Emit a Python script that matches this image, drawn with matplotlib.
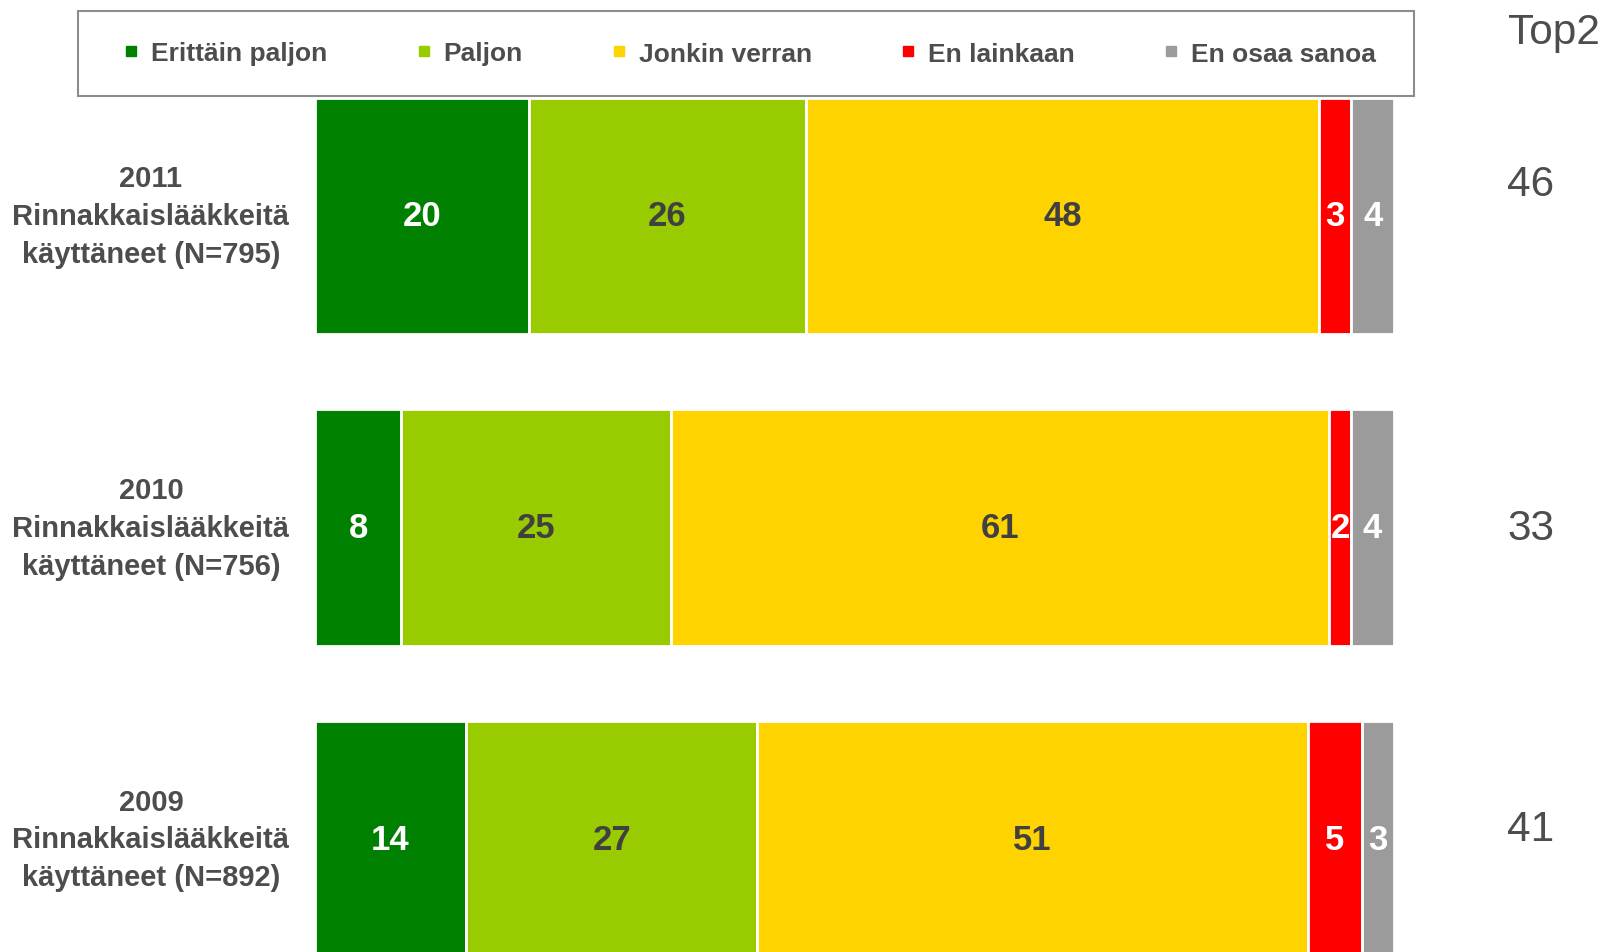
import matplotlib
matplotlib.use("Agg")
import matplotlib.pyplot as plt
import matplotlib.transforms as mtransforms
from matplotlib.lines import Line2D
from matplotlib.patches import Rectangle

plt.rcParams['font.family'] = ['Liberation Sans', 'DejaVu Sans']

# ---- data ----
row_labels = [
    "2011\nRinnakkaislääkkeitä\nkäyttäneet (N=795)",
    "2010\nRinnakkaislääkkeitä\nkäyttäneet (N=756)",
    "2009\nRinnakkaislääkkeitä\nkäyttäneet (N=892)",
]
series_names = ["Erittäin paljon", "Paljon", "Jonkin verran", "En lainkaan", "En osaa sanoa"]
erittain_paljon = [20, 8, 14]
paljon = [26, 25, 27]
jonkin_verran = [48, 61, 51]
en_lainkaan = [3, 2, 5]
en_osaa_sanoa = [4, 4, 3]
series_values = [erittain_paljon, paljon, jonkin_verran, en_lainkaan, en_osaa_sanoa]

# ---- styles ----
colors = ["#008000", "#99CC00", "#FFD300", "#FF0000", "#9B9B9B"]
text_colors = ["white", "#404040", "#404040", "white", "white"]
gray_text = "#4D4D4D"
top2_offsets_px = [-32, 0, -10]

W, H = 1604, 953
fig = plt.figure(figsize=(W / 100, H / 100), dpi=100)
ax = fig.add_axes([315 / W, 0, 1079 / W, 1])

n = len(row_labels)
ypos = list(range(n))
totals = [sum(s[i] for s in series_values) for i in range(n)]

for i in range(n):
    left = 0.0
    for k, vals in enumerate(series_values):
        w = vals[i] / totals[i] * 100
        ax.barh(ypos[i], w, left=left, height=0.76, color=colors[k],
                edgecolor="white", linewidth=2)
        ax.text(left + w / 2, ypos[i], str(vals[i]), ha="center", va="center",
                fontsize=25, fontweight="bold", color=text_colors[k])
        left += w

ax.set_xlim(0, 100)
ax.set_ylim(2.361, -0.696)
ax.axis("off")

# left category labels
trans = mtransforms.blended_transform_factory(ax.transAxes, ax.transData)
for i in range(n):
    ax.text(-0.152, ypos[i], row_labels[i], transform=trans, ha="center", va="center",
            fontsize=21, fontweight="bold", color=gray_text, linespacing=1.45)

# Top2 values
for i in range(n):
    top2 = erittain_paljon[i] + paljon[i]
    off = mtransforms.ScaledTranslation(0, -top2_offsets_px[i] / 100, fig.dpi_scale_trans)
    ax.text(1.127, ypos[i], str(top2), transform=trans + off, ha="center", va="center",
            fontsize=30.5, color=gray_text)

fig.text(1508 / W, 1 - 33 / H, "Top2", ha="left", va="center", fontsize=30.5, color=gray_text)

# legend box
box = Rectangle((78 / W, 1 - 97 / H), (1414 - 78) / W, (97 - 12) / H,
                transform=fig.transFigure, facecolor="white", edgecolor="#8C8C8C",
                linewidth=1.5, zorder=5)
fig.patches.append(box)

handles = [Line2D([0], [0], marker="s", linestyle="none", markersize=7,
                  markerfacecolor=c, markeredgecolor=c) for c in colors]
leg = fig.legend(handles, series_names, loc="center", ncol=5, mode="expand",
                 bbox_to_anchor=(113 / W, 1 - 97 / H, (1386 - 113) / W, (97 - 12) / H),
                 bbox_transform=fig.transFigure, frameon=False, borderaxespad=0,
                 handlelength=0.6, handletextpad=0.45,
                 prop={"weight": "bold", "size": 19})
for t in leg.get_texts():
    t.set_color(gray_text)
leg.set_zorder(6)

fig.savefig("out.png", dpi=100)
